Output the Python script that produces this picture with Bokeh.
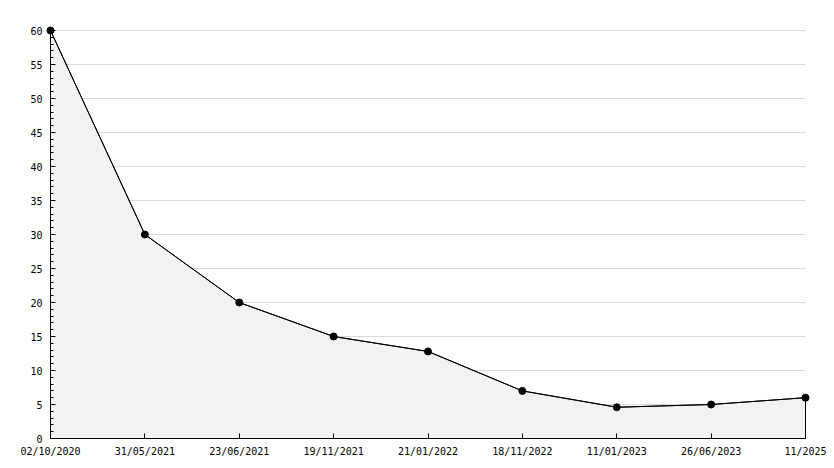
from bokeh.plotting import figure
from bokeh.models import FixedTicker, Range1d, LinearAxis
from bokeh.embed import file_html
from bokeh.resources import INLINE

dates = ["02/10/2020", "31/05/2021", "23/06/2021", "19/11/2021", "21/01/2022",
         "18/11/2022", "11/01/2023", "26/06/2023", "11/2025"]
values = [60, 30, 20, 15, 12.8, 7, 4.6, 5, 6]
y_ticks = [0, 5, 10, 15, 20, 25, 30, 35, 40, 45, 50, 55, 60]

xs = list(range(len(dates)))
n = len(dates) - 1

FW, FH = 765, 418
padx = 5 / (755 / n)
pady = 5 / (408 / 60)

p = figure(frame_width=FW, frame_height=FH, output_backend="svg", toolbar_location=None,
           x_range=Range1d(-padx, n + padx), y_range=Range1d(-pady, 60 + pady),
           min_border_left=45, min_border_top=25, min_border_right=24, min_border_bottom=25)
p.outline_line_color = None
p.background_fill_color = "white"
p.xgrid.grid_line_color = None
p.ygrid.grid_line_color = None

# horizontal grid lines (behind the area)
gy = y_ticks[1:]
p.segment(x0=[0] * len(gy), x1=[n] * len(gy), y0=gy, y1=gy, line_color="#d9d9d9", line_width=1)

# area
px = [xs[0]] + xs + [xs[-1]]
py = [0] + values + [0]
p.patch(px, py, fill_color="#f2f2f2", line_color="black", line_width=1)
p.line(xs, values, line_color="black", line_width=1)
p.scatter(xs, values, marker="circle", size=7, fill_color="black", line_color="black")

font = "DejaVu Sans Mono"
xticker = FixedTicker(ticks=xs)
yticker = FixedTicker(ticks=y_ticks, minor_ticks=list(range(0, 61)))

# label-only axes at frame edges
p.xaxis.ticker = xticker
p.xaxis.major_label_overrides = {i: d for i, d in enumerate(dates)}
p.yaxis.ticker = yticker
for ax in (p.xaxis, p.yaxis):
    ax.axis_line_color = None
    ax.major_tick_line_color = None
    ax.minor_tick_line_color = None
    ax.major_tick_in = 0
    ax.major_tick_out = 0
    ax.minor_tick_in = 0
    ax.minor_tick_out = 0
    ax.major_label_text_font = font
    ax.major_label_text_font_size = "10px"
    ax.major_label_text_color = "black"
p.xaxis.major_label_standoff = 2
p.yaxis.major_label_standoff = 3

# line/tick axes fixed at zero (no labels); ticks point into the plot
ax_x = LinearAxis(ticker=xticker, fixed_location=0, bounds=(0, n),
                  major_label_overrides={i: "" for i in xs},
                  major_tick_in=0, major_tick_out=5,
                  minor_tick_line_color=None, axis_line_color="black",
                  major_tick_line_color="black", major_label_standoff=0)
ax_y = LinearAxis(ticker=yticker, fixed_location=0, bounds=(0, 60),
                  major_label_overrides={t: "" for t in y_ticks},
                  major_tick_in=0, major_tick_out=5,
                  minor_tick_in=0, minor_tick_out=3, minor_tick_line_color="black",
                  axis_line_color="black", major_tick_line_color="black",
                  major_label_standoff=0)
p.add_layout(ax_x, "above")
p.add_layout(ax_y, "right")

open("out.html", "w").write(file_html(p, INLINE))
